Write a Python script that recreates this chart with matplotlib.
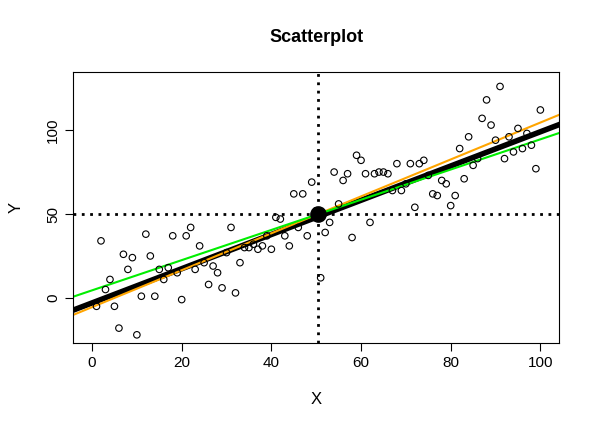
import matplotlib
matplotlib.use("Agg")
import matplotlib.pyplot as plt
import numpy as np

plt.rcParams['font.family'] = ['Liberation Sans', 'DejaVu Sans']

x = list(range(1, 101))
y = [-5,34,5,11,-5,-18,26,17,24,-22,1,38,25,1,17,11,18,37,15,-1,
     37,42,17,31,21,8,19,15,6,27,42,3,21,30,30,32,29,31,37,29,
     48,47,37,31,62,42,62,37,69,52,12,39,45,75,56,70,74,36,85,82,
     74,45,74,75,75,74,64,80,64,68,80,54,80,82,73,62,61,70,68,55,
     61,89,71,96,79,83,107,118,103,94,126,83,96,87,101,89,98,91,77,112]
mean_x, mean_y = 50.5, 50.0
# (intercept, slope, colour, width)
lines = [(-3.0, 1.02, "red", 1.5), (-3.0, 1.02, "black", 4), (-5.5, 1.10, "orange", 1.5), (4.5, 0.90, "#00ee00", 1.5)]

fig = plt.figure(figsize=(6, 4.43), dpi=100)
ax = fig.add_axes([0.122, 0.226, 0.81, 0.611])
ax.scatter(x, y, s=22, facecolors="none", edgecolors="black", linewidths=0.8, zorder=3)
xs = np.array([-10, 110])
for a, b, c, w in lines:
    ax.plot(xs, a + b * xs, color=c, lw=w, zorder=2)
ax.axvline(mean_x, color="black", ls=(0, (1, 2)), lw=2)
ax.axhline(mean_y, color="black", ls=(0, (1, 2)), lw=2)
ax.plot([mean_x], [mean_y], "o", color="black", ms=11, zorder=4)
ax.set_xlim(-4.2, 104.2)
ax.set_ylim(-26.8, 134.5)
ax.set_xticks([0, 20, 40, 60, 80, 100])
ax.set_yticks([0, 50, 100])
ax.tick_params(axis="y", labelrotation=90)
for lab in ax.get_yticklabels():
    lab.set_va("center")
ax.tick_params(labelsize=11, length=6)
ax.set_xlabel("X", fontsize=12, labelpad=16)
ax.set_ylabel("Y", fontsize=12, labelpad=16)
ax.set_title("Scatterplot", fontsize=13, fontweight="bold", pad=22)
fig.savefig("out.png")
